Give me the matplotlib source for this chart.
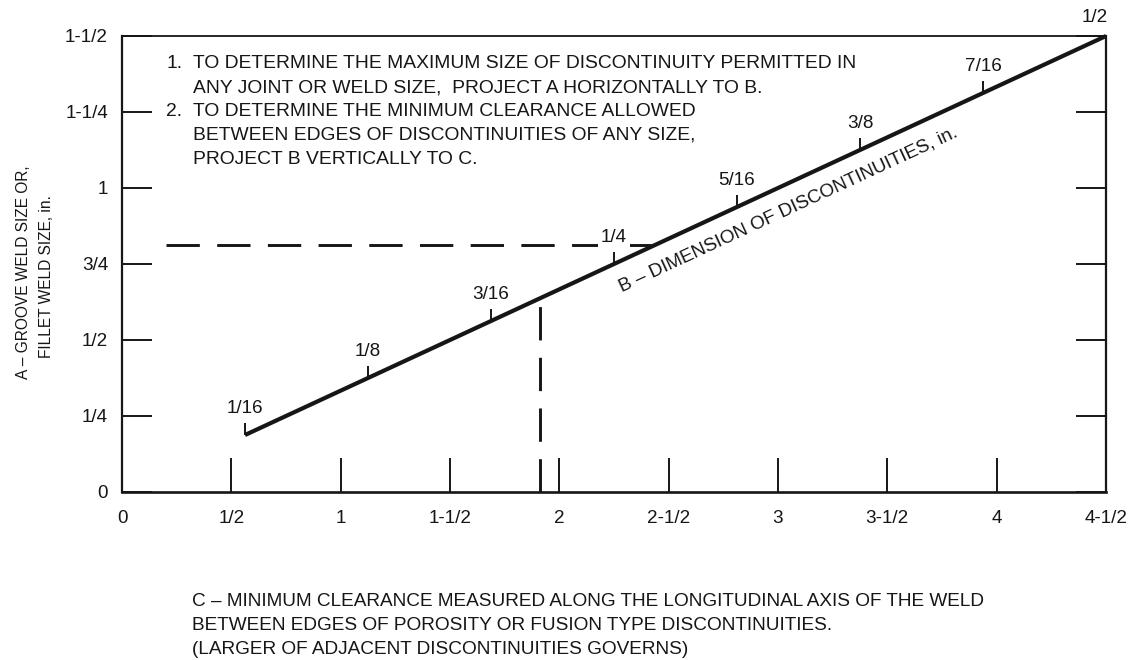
import numpy as np
import matplotlib
matplotlib.use("Agg")
import matplotlib.pyplot as plt
from matplotlib.markers import TICKUP

plt.rcParams['font.family'] = ['Liberation Sans', 'DejaVu Sans']
plt.rcParams['lines.scale_dashes'] = False

INK = '#161616'

# Axis C (horizontal): minimum clearance, in.
c_ticks = [0, 0.5, 1.0, 1.5, 2.0, 2.5, 3.0, 3.5, 4.0, 4.5]
c_tick_labels = ["0", "1/2", "1", "1-1/2", "2", "2-1/2", "3", "3-1/2", "4", "4-1/2"]

# Axis A (vertical): groove / fillet weld size, in.
a_ticks = [0, 0.25, 0.5, 0.75, 1.0, 1.25, 1.5]
a_tick_labels = ["0", "1/4", "1/2", "3/4", "1", "1-1/4", "1-1/2"]

# Scale B: discontinuity dimension line (end points as C, A)
line_c = [0.5625, 4.5]
line_a = [0.1875, 1.5]

# Graduations along B, located by their C position
b_labels = ["1/16", "1/8", "3/16", "1/4", "5/16", "3/8", "7/16", "1/2"]
b_c = [0.5625, 1.125, 1.6875, 2.25, 2.8125, 3.375, 3.9375, 4.5]

# Worked example projections
proj_a = 0.8125        # horizontal projection level A
proj_c = 1.91          # vertical projection position C
proj_start_c = 0.2

notes = [
    ("1.", "TO DETERMINE THE MAXIMUM SIZE OF DISCONTINUITY PERMITTED IN"),
    ("", "ANY JOINT OR WELD SIZE,  PROJECT A HORIZONTALLY TO B."),
    ("2.", "TO DETERMINE THE MINIMUM CLEARANCE ALLOWED"),
    ("", "BETWEEN EDGES OF DISCONTINUITIES OF ANY SIZE,"),
    ("", "PROJECT B VERTICALLY TO C."),
]
x_caption = [
    "C \u2013 MINIMUM CLEARANCE MEASURED ALONG THE LONGITUDINAL AXIS OF THE WELD",
    "BETWEEN EDGES OF POROSITY OR FUSION TYPE DISCONTINUITIES.",
    "(LARGER OF ADJACENT DISCONTINUITIES GOVERNS)",
]
y_caption = ["A \u2013 GROOVE WELD SIZE OR,", "FILLET WELD SIZE, in."]
b_caption = "B \u2013 DIMENSION OF DISCONTINUITIES, in."

W, H = 1141, 660
fig = plt.figure(figsize=(W / 100, H / 100), dpi=100)
fig.patch.set_facecolor('white')
ax = fig.add_axes([122 / W, 168 / H, 984 / W, 456 / H])
ax.set_xlim(0, 4.5)
ax.set_ylim(0, 1.5)

for side, lw in [('left', 1.6), ('bottom', 1.9), ('right', 1.6), ('top', 1.3)]:
    ax.spines[side].set_linewidth(lw)
    ax.spines[side].set_color(INK)

ax.set_xticks(c_ticks)
ax.set_xticklabels(c_tick_labels)
ax.set_yticks(a_ticks)
ax.set_yticklabels(a_tick_labels)
ax.tick_params(axis='x', direction='in', length=24.5, width=1.4, pad=13,
               labelsize=13.6, colors=INK, top=False)
ax.tick_params(axis='y', direction='in', length=21.5, width=1.4, pad=10,
               labelsize=13.6, colors=INK, left=True, right=True,
               labelright=False)

# Dimension line B
ax.plot(line_c, line_a, color=INK, lw=3.0, solid_capstyle='butt',
        clip_on=False, zorder=4)

# Graduation marks and labels along B
b_a = np.interp(b_c, line_c, line_a)
ax.plot(b_c[:-1], b_a[:-1], linestyle='none', marker=TICKUP, markersize=8.5,
        markeredgewidth=1.4, color=INK, zorder=4)
for lab, c, a in zip(b_labels, b_c, b_a):
    if lab == b_labels[-1]:
        off = (-8, 13)
    else:
        off = (0, 19)
    ax.annotate(lab, xy=(c, a), xytext=off, textcoords='offset points',
                ha='center', va='center', fontsize=13.6, color=INK, zorder=6,
                bbox=dict(boxstyle='square,pad=0.15', fc='white', ec='none'),
                annotation_clip=False)

# Projection lines (vertical one dashed upward from the C axis)
dash = (0, (24, 12.5))
proj_c_end = np.interp(proj_a, line_a, line_c)
ax.plot([proj_start_c, proj_c_end], [proj_a, proj_a], color=INK, lw=2.1,
        linestyle=dash, dash_capstyle='butt', zorder=3)
proj_a_top = np.interp(proj_c, line_c, line_a)
ax.plot([proj_c, proj_c], [0, proj_a_top], color=INK, lw=2.1,
        linestyle=dash, dash_capstyle='butt', zorder=3)

# Caption along B, parallel to the line and offset below it
p0 = ax.transData.transform((line_c[0], line_a[0]))
p1 = ax.transData.transform((line_c[1], line_a[1]))
theta = np.arctan2(p1[1] - p0[1], p1[0] - p0[0])
anchor_c = 3.0
anchor_a = np.interp(anchor_c, line_c, line_a)
dist = 17.5  # points
ax.annotate(b_caption, xy=(anchor_c, anchor_a),
            xytext=(dist * np.sin(theta), -dist * np.cos(theta)),
            textcoords='offset points', rotation=np.degrees(theta),
            rotation_mode='anchor', ha='center', va='center',
            fontsize=13.6, color=INK)

# Notes block
for i, (num, txt) in enumerate(notes):
    y = 1 - (63.7 + i * 23.9) / H
    if num:
        fig.text(166 / W, y, num, fontsize=13.9, color=INK, ha='left', va='center')
    fig.text(193 / W, y, txt, fontsize=13.9, color=INK, ha='left', va='center')

# Axis captions
for i, txt in enumerate(x_caption):
    fig.text(192 / W, 1 - (601 + i * 24.3) / H, txt, fontsize=13.65, color=INK,
             ha='left', va='center')
fig.text(24 / W, 1 - 272 / H, y_caption[0], rotation=90, fontsize=11.2,
         color=INK, ha='center', va='center')
fig.text(47 / W, 1 - 277 / H, y_caption[1], rotation=90, fontsize=11.2,
         color=INK, ha='center', va='center')

fig.savefig("out.png", dpi=100, facecolor='white')
